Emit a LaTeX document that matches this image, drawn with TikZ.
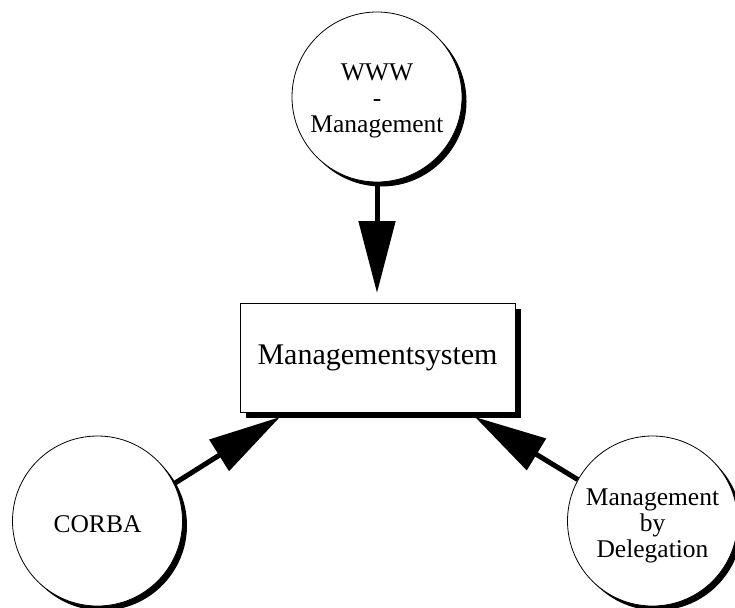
\documentclass[tikz,border=0pt]{standalone}
\usepackage{fontspec}
\setmainfont{Liberation Serif}
\usetikzlibrary{arrows.meta,shadows}
\begin{document}
\begin{tikzpicture}[x=1pt,y=-1pt,
  topic/.style={circle,draw,line width=0.8pt,fill=white,minimum size=170pt,inner sep=0pt,
    drop shadow={shadow xshift=4.5pt,shadow yshift=-4.5pt,opacity=1,fill=black}},
  caption/.style={align=center,inner sep=0pt,font=\fontsize{25.5}{26}\selectfont},
  core/.style={rectangle,draw,line width=0.8pt,fill=white,minimum width=275pt,minimum height=109pt,
    inner sep=0pt,font=\fontsize{30}{30}\selectfont,
    drop shadow={shadow xshift=6pt,shadow yshift=-6pt,opacity=1,fill=black}},
  link/.style={line width=5pt,-{Triangle[length=72pt,width=36pt]}}]
\useasboundingbox (0,0) rectangle (735,607);
% central system box
\node[core] (sys) at (377.5,357.5) {Managementsystem};
% the three feeding topics
\node[topic] (www) at (377,97) {};
\node[topic] (cor) at (97.5,521) {};
\node[topic] (del) at (652.5,521) {};
\node[caption] (wwwt) at (377,101) {WWW\\-\\Management};
\node[caption] (cort) at (97.5,524) {CORBA};
\node[caption] (delt) at (652.5,526) {Management\\by\\Delegation};
% arrow tips meet the box
\coordinate (tw) at (377,293);
\coordinate (tc) at (280,417);
\coordinate (td) at (475,417);
\draw[link] (www.south) -- (tw);
\draw[link] (cor.26) -- (tc);
\draw[link] (del.151) -- (td);
\end{tikzpicture}
\end{document}
